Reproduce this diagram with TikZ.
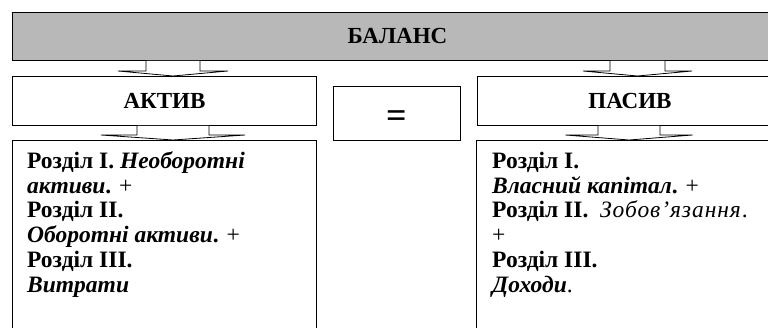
\documentclass[tikz,border=0pt]{standalone}
\usepackage{fontspec}
\setmainfont{Liberation Serif}
\newfontfamily\tnr{Liberation Serif}
\usetikzlibrary{calc}
\newcommand\blockarr[5]{%
  \draw[barrow] let \p1=(#1.south), \p2=(#2.north) in
    (#3pt-#4pt,\y1) -- (#3pt-#4pt,\y2+5pt) -- (#3pt-#5pt,\y2+5pt) -- (#3pt,\y2)
    -- (#3pt+#5pt,\y2+5pt) -- (#3pt+#4pt,\y2+5pt) -- (#3pt+#4pt,\y1);}
\begin{document}
\begin{tikzpicture}[x=1pt,y=-1pt,
  box/.style={draw=black,line width=0.9pt,inner sep=0pt,anchor=north west},
  hdr/.style={font=\tnr\fontsize{23}{27}\selectfont\bfseries},
  ln/.style={anchor=base west,inner sep=0pt,font=\tnr\fontsize{23.5}{27}\selectfont},
  barrow/.style={draw=black,fill=white,line width=0.8pt,line join=miter}]
\useasboundingbox (0,0) rectangle (768,327);
\clip (0,0) rectangle (768,327);
% boxes
\node[box,fill=black!28,minimum width=770pt,minimum height=48pt,hdr] (bal) at (12,12) {БАЛАНС};
\node[box,minimum width=304pt,minimum height=49pt,hdr] (akt) at (12,76) {АКТИВ};
\node[box,minimum width=305pt,minimum height=49pt,hdr] (pas) at (477,76) {ПАСИВ};
\node[box,minimum width=127pt,minimum height=54pt] (eq) at (333,86) {};
\node[inner sep=0pt,font=\tnr\fontsize{36}{38}\selectfont\bfseries] (eqsign) at (396.5,119) {=};
\node[box,minimum width=304pt,minimum height=200pt] (lbox) at (12,140) {};
\node[box,minimum width=310pt,minimum height=200pt] (rbox) at (476,140) {};
% block arrows
\blockarr{bal}{akt}{173}{27}{55}
\blockarr{akt}{lbox}{173}{36}{72}
\blockarr{bal}{pas}{637.5}{27.5}{54.5}
\blockarr{pas}{rbox}{629}{31}{63.5}
% left text
\node[ln] (l1) at (27,168) {\textbf{Розділ I.} \textbf{\textit{Необоротні}}};
\node[ln] (l2) at (27,193) {\textbf{\textit{активи}}\textbf{.} +};
\node[ln] (l3) at (27,217) {\textbf{Розділ II.}};
\node[ln] (l4) at (27,242) {\textbf{\textit{Оборотні активи}}\textbf{.} +};
\node[ln] (l5) at (27,267) {\textbf{Розділ III.}};
\node[ln] (l6) at (27,292) {\textbf{\textit{Витрати}}};
% right text
\node[ln] (r1) at (492,168) {\textbf{Розділ I.}};
\node[ln] (r2) at (492,193) {\textbf{\textit{Власний капітал}}\textbf{.} +};
\node[ln] (r3) at (492,217) {\textbf{Розділ II.}\ \ {\addfontfeature{LetterSpace=4}\textit{Зобов’язання}}.};
\node[ln] (r4) at (492,242) {+};
\node[ln] (r5) at (492,267) {\textbf{Розділ III.}};
\node[ln] (r6) at (492,292) {\textbf{\textit{Доходи}}.};
\end{tikzpicture}
\end{document}
